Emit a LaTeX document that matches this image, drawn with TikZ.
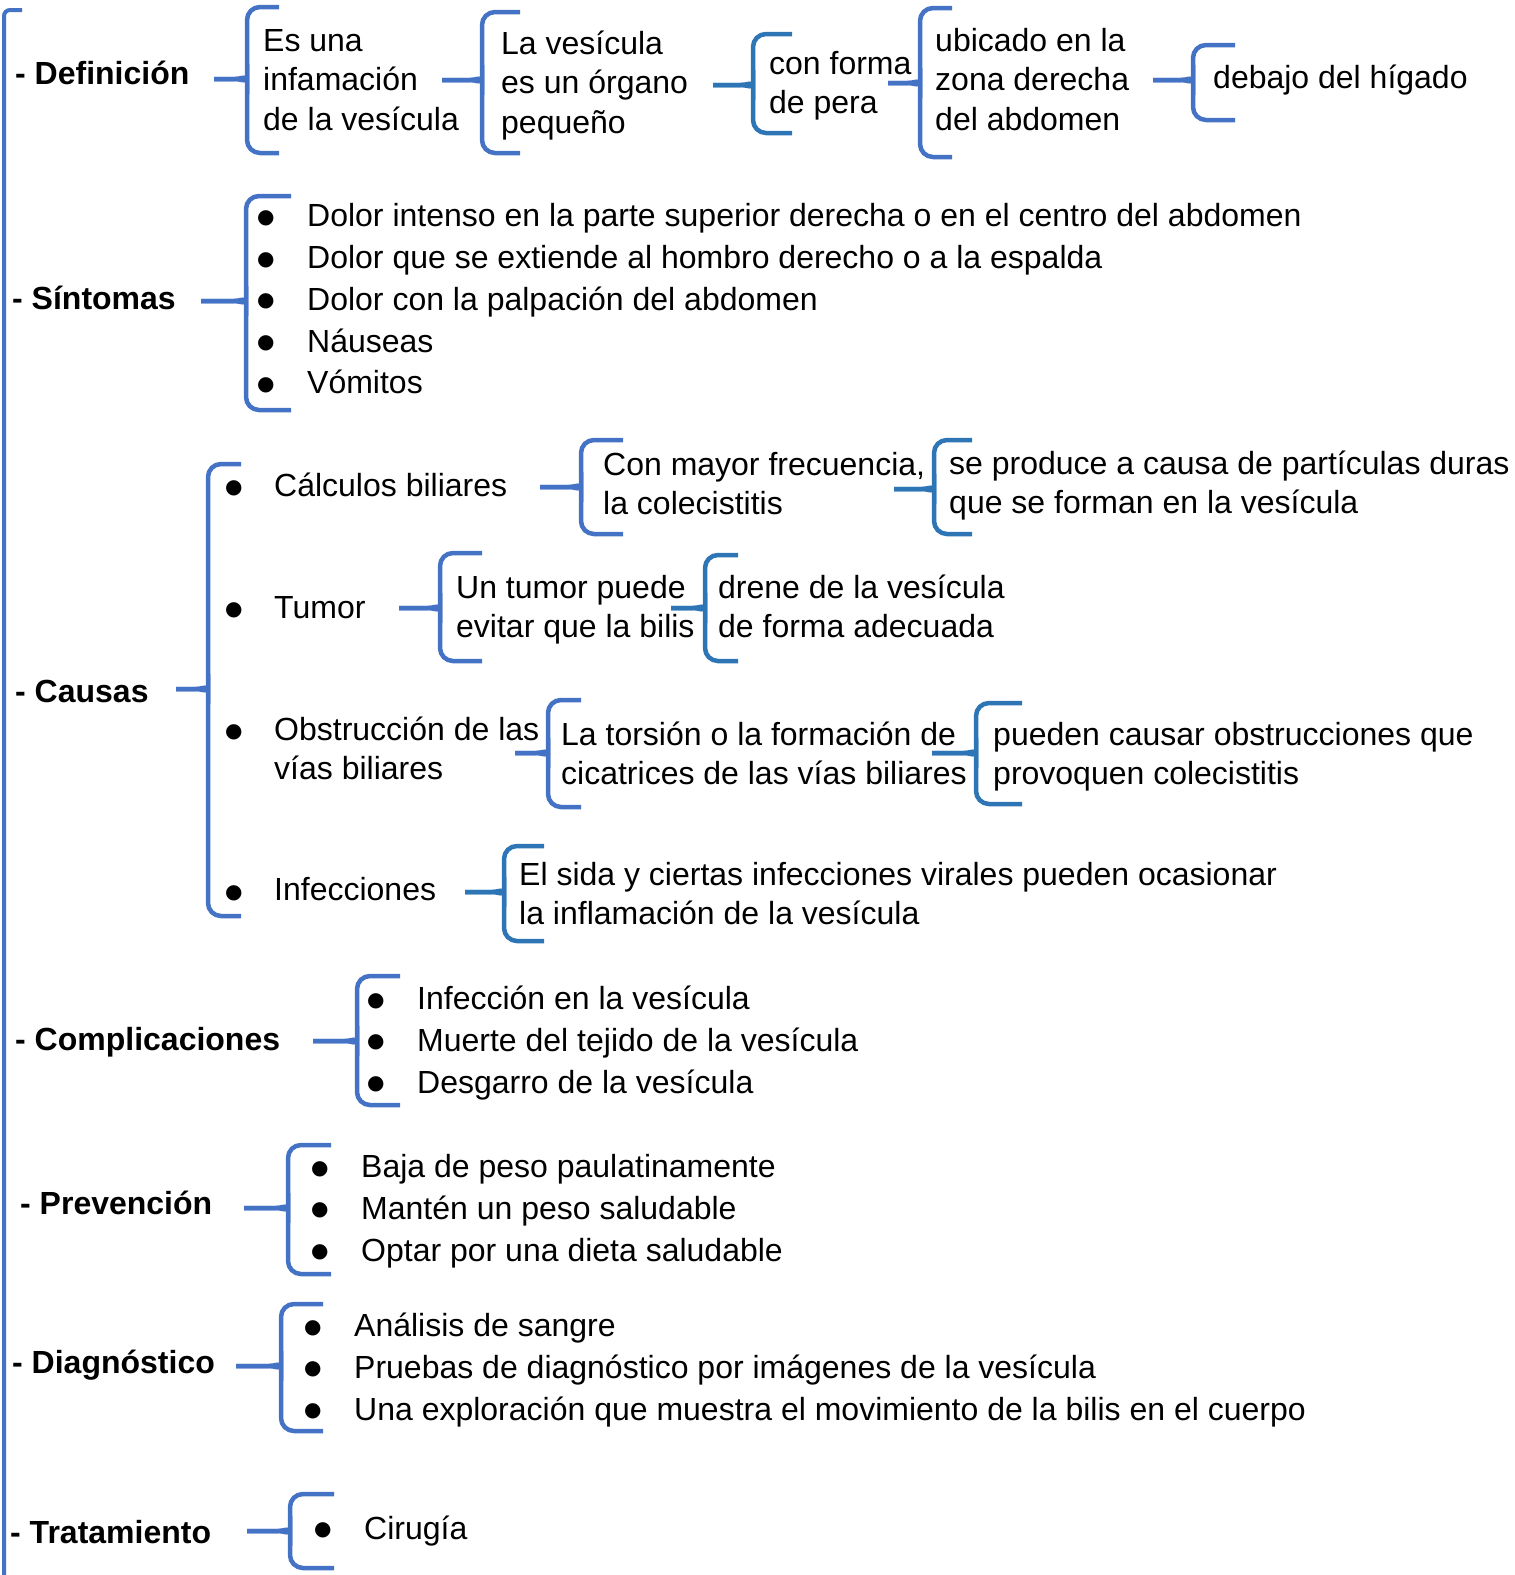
\documentclass[tikz,border=0pt]{standalone}
\usepackage{fontspec}
\setmainfont{Liberation Sans}
\newfontfamily\symfont{DejaVu Sans}
\usetikzlibrary{positioning}
\definecolor{bluea}{HTML}{4472C4}
\definecolor{blueb}{HTML}{2E75B6}
\tikzset{
  lbl/.style={font=\fontsize{32}{40}\selectfont\bfseries, inner sep=0pt, anchor=west},
  txt/.style={font=\fontsize{32}{39.5}\selectfont, align=left, inner sep=0pt, anchor=west},
  lst/.style={font=\fontsize{32}{41.7}\selectfont, align=left, inner sep=0pt, anchor=west},
  brc/.style={line width=4.5pt, rounded corners=13pt},
}
% colour, x, top, bottom, middle, tip, arm
\newcommand{\brc}[7][bluea]{%
  \draw[brc, #1] (#7,#3) -- (#2,#3) -- (#2,#5-11) [sharp corners]
    .. controls (#2,#5-4) and (#2-6,#5) .. (#2-12,#5) -- (#6,#5);
  \draw[brc, #1] (#7,#4) -- (#2,#4) -- (#2,#5+11) [sharp corners]
    .. controls (#2,#5+4) and (#2-6,#5) .. (#2-12,#5) -- (#6,#5);
}
\newcommand{\dotb}{\hspace{-1pt}\raisebox{3.5pt}{\symfont\fontsize{20}{20}\selectfont ●}}
\newcommand{\itm}{\makebox[49pt][l]{\dotb}}

\begin{document}
\begin{tikzpicture}[x=1pt, y=-1pt]
\useasboundingbox (0,0) rectangle (1515,1575);

\draw[brc, bluea, line width=4pt, rounded corners=6pt] (22,10) -- (4,10) -- (4,1580);

\node (def) [lbl] at (15,76) {\strut- Definición};
\brc{247}{7}{153}{79}{214}{279}
\node (defA) [txt] at (263,83) {\strut Es una\\infamación\\de la vesícula\strut};
\brc{482}{12}{153}{80}{442}{520}
\node (defB) [txt] at (501,86) {\strut La vesícula\\es un órgano\\pequeño\strut};
\brc[blueb]{753}{34}{133}{85}{713}{792}
\node (defC) [txt] at (769,86) {\strut con forma\\de pera\strut};
\brc{920}{8}{157}{83}{888}{952}
\node (defD) [txt] at (935,83) {\strut ubicado en la\\zona derecha\\del abdomen\strut};
\brc{1193}{45}{120}{80}{1153}{1235}
\node (defE) [txt] at (1213,81) {\strut debajo del hígado};

\node (sin) [lbl] at (12,301) {\strut- Síntomas};
\brc{246}{196}{410}{301}{201}{291}
\node (sinL) [lst] at (258,302) {\strut\itm Dolor intenso en la parte superior derecha o en el centro del abdomen\\
  \itm Dolor que se extiende al hombro derecho o a la espalda\\
  \itm Dolor con la palpación del abdomen\\
  \itm Náuseas\\
  \itm Vómitos\strut};

\node (cau) [lbl] at (15,694) {\strut- Causas};
\brc{208}{464}{916}{689}{176}{241}
\node (cauB1) [txt] at (226,489) {\strut\dotb};
\node (cauB2) [txt] at (226,611) {\strut\dotb};
\node (cauB3) [txt] at (226,733) {\strut\dotb};
\node (cauB4) [txt] at (226,894) {\strut\dotb};

\node (cal) [txt] at (274,489) {\strut Cálculos biliares};
\brc{581}{440}{534}{487}{540}{623}
\node (calA) [txt] at (603,487) {\strut Con mayor frecuencia,\\la colecistitis\strut};
\brc[blueb]{934}{440}{534}{489}{894}{972}
\node (calB) [txt] at (949,486) {\strut se produce a causa de partículas duras\\que se forman en la vesícula\strut};

\node (tum) [txt] at (274,611) {\strut Tumor};
\brc{440}{553}{661}{608}{399}{482}
\node (tumA) [txt] at (456,610) {\strut Un tumor puede\\evitar que la bilis\strut};
\brc[blueb]{705}{555}{661}{608}{671}{738}
\node (tumB) [txt] at (718,610) {\strut drene de la vesícula\\de forma adecuada\strut};

\node (obs) [txt] at (274,752) {\strut Obstrucción de las\\vías biliares\strut};
\brc{548}{700}{807}{753}{515}{581}
\node (obsA) [txt] at (561,757) {\strut La torsión o la formación de\\cicatrices de las vías biliares\strut};
\brc[blueb]{976}{703}{804}{753}{932}{1022}
\node (obsB) [txt] at (993,757) {\strut pueden causar obstrucciones que\\provoquen colecistitis\strut};

\node (inf) [txt] at (274,893) {\strut Infecciones};
\brc[blueb]{504}{846}{941}{892}{465}{544}
\node (infA) [txt] at (519,897) {\strut El sida y ciertas infecciones virales pueden ocasionar\\la inflamación de la vesícula\strut};

\node (com) [lbl] at (15,1042) {\strut- Complicaciones};
\brc{357}{976}{1105}{1041}{313}{400}
\node (comL) [lst] at (368,1043) {\strut\itm Infección en la vesícula\\
  \itm Muerte del tejido de la vesícula\\
  \itm Desgarro de la vesícula\strut};

\node (pre) [lbl] at (20,1206) {\strut- Prevención};
\brc{288}{1145}{1274}{1208}{244}{331}
\node (preL) [lst] at (312,1211) {\strut\itm Baja de peso paulatinamente\\
  \itm Mantén un peso saludable\\
  \itm Optar por una dieta saludable\strut};

\node (dia) [lbl] at (12,1365) {\strut- Diagnóstico};
\brc{281}{1304}{1431}{1366}{236}{323}
\node (diaL) [lst] at (305,1370) {\strut\itm Análisis de sangre\\
  \itm Pruebas de diagnóstico por imágenes de la vesícula\\
  \itm Una exploración que muestra el movimiento de la bilis en el cuerpo\strut};

\node (tra) [lbl] at (10,1535) {\strut- Tratamiento};
\brc{290}{1494}{1568}{1531}{247}{334}
\node (traL) [lst] at (315,1531) {\strut\itm Cirugía\strut};

\end{tikzpicture}
\end{document}
